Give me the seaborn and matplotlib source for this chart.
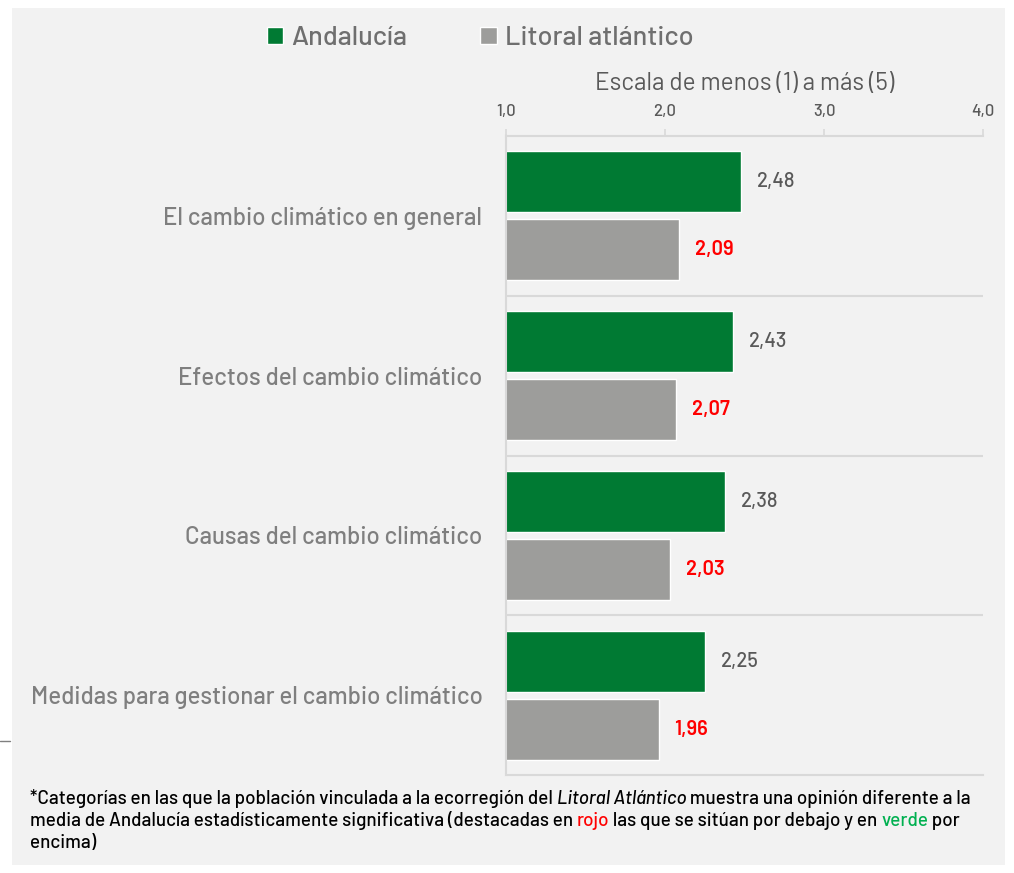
import matplotlib
matplotlib.use('Agg')
import pandas as pd
import matplotlib.pyplot as plt
import seaborn as sns
from matplotlib.patches import Rectangle
from matplotlib.lines import Line2D

# Datos
categorias = ['El cambio climático en general', 'Efectos del cambio climático',
              'Causas del cambio climático', 'Medidas para gestionar el cambio climático']
series = ['Andalucía', 'Litoral atlántico']
andalucia = [2.48, 2.43, 2.38, 2.25]
litoral = [2.09, 2.07, 2.03, 1.96]
ticks = [1.0, 2.0, 3.0, 4.0]
tick_labels = ['1,0', '2,0', '3,0', '4,0']

df = pd.DataFrame({
    'categoria': categorias * 2,
    'serie': [series[0]] * len(categorias) + [series[1]] * len(categorias),
    'valor': andalucia + litoral,
})

sns.set_style('white')
plt.rcParams['font.family'] = ['Barlow', 'DejaVu Sans']
plt.rcParams['font.weight'] = 'medium'

fig = plt.figure(figsize=(10.14, 8.73), dpi=100)
fig.patch.set_facecolor('white')
fig.patches.append(Rectangle((12 / 1014, 1 - 865 / 873), 993 / 1014, 857 / 873,
                             transform=fig.transFigure, facecolor='#f2f2f2',
                             edgecolor='none', zorder=-10))
fig.lines.append(Line2D([0, 10 / 1014], [1 - 741 / 873] * 2, transform=fig.transFigure,
                        color='#7f7f7f', lw=1))

ax = fig.add_axes([506 / 1014, 1 - 775 / 873, 477 / 1014, 639 / 873])
ax.set_facecolor('none')

colores = {series[0]: '#007a33', series[1]: '#9d9d9b'}
sns.barplot(data=df, y='categoria', x='valor', hue='serie', orient='h',
            palette=colores, width=0.85, gap=0.1, ax=ax, legend=True,
            saturation=1)

ax.set_xlim(1, 4)
ax.set_ylim(3.5, -0.5)
ax.xaxis.tick_top()
ax.xaxis.set_label_position('top')
ax.set_xticks(ticks)
ax.set_xticklabels(tick_labels)
ax.set_xlabel('Escala de menos (1) a más (5)', fontsize=17.5, color='#595959', labelpad=10)
ax.set_ylabel('')
ax.tick_params(axis='x', colors='#d9d9d9', labelcolor='#595959', labelsize=12,
               length=5, width=1.2, pad=7)
ax.tick_params(axis='y', length=0, pad=17, labelsize=17.3, labelcolor='#7f7f7f')

for s in ['top', 'left', 'bottom']:
    ax.spines[s].set_color('#d9d9d9')
    ax.spines[s].set_linewidth(1.5)
ax.spines['right'].set_visible(False)
for y in [0.5, 1.5, 2.5]:
    ax.axhline(y, color='#d9d9d9', lw=1.5)

# Etiquetas de valores
for i, (a, l) in enumerate(zip(andalucia, litoral)):
    ax.text(a + 0.1, i - 0.2125, f'{a:.2f}'.replace('.', ','), va='center', ha='left',
            fontsize=14.5, color='#595959')
    ax.text(l + 0.1, i + 0.2125, f'{l:.2f}'.replace('.', ','), va='center', ha='left',
            fontsize=14.5, color='red', fontweight='semibold')

# Leyenda
handles, labels = ax.get_legend_handles_labels()
ax.legend_.remove()
fig.legend(handles, labels, loc='center', bbox_to_anchor=(480 / 1014, 1 - 38 / 873),
           ncol=2, frameon=False, fontsize=19.5, labelcolor='#6f6f6f',
           handlelength=0.6, handleheight=0.6, handletextpad=0.3, columnspacing=2.7)

# Nota al pie
fig.canvas.draw()
renderer = fig.canvas.get_renderer()


def linea(y, partes):
    x = 30 / 1014
    for txt, color, estilo in partes:
        t = fig.text(x, y, txt, color=color, style=estilo, fontsize=13.6, va='center')
        bb = t.get_window_extent(renderer)
        x = bb.x1 / fig.bbox.width


linea(1 - 799 / 873, [('*Categorías en las que la población vinculada a la ecorregión del ', 'black', 'normal'),
                      ('Litoral Atlántico', 'black', 'italic'),
                      (' muestra una opinión diferente a la', 'black', 'normal')])
linea(1 - 821 / 873, [('media de Andalucía estadísticamente significativa (destacadas en ', 'black', 'normal'),
                      ('rojo', 'red', 'normal'),
                      (' las que se sitúan por debajo y en ', 'black', 'normal'),
                      ('verde', '#00b050', 'normal'),
                      (' por', 'black', 'normal')])
linea(1 - 843 / 873, [('encima)', 'black', 'normal')])

fig.savefig('out.png', dpi=100)
